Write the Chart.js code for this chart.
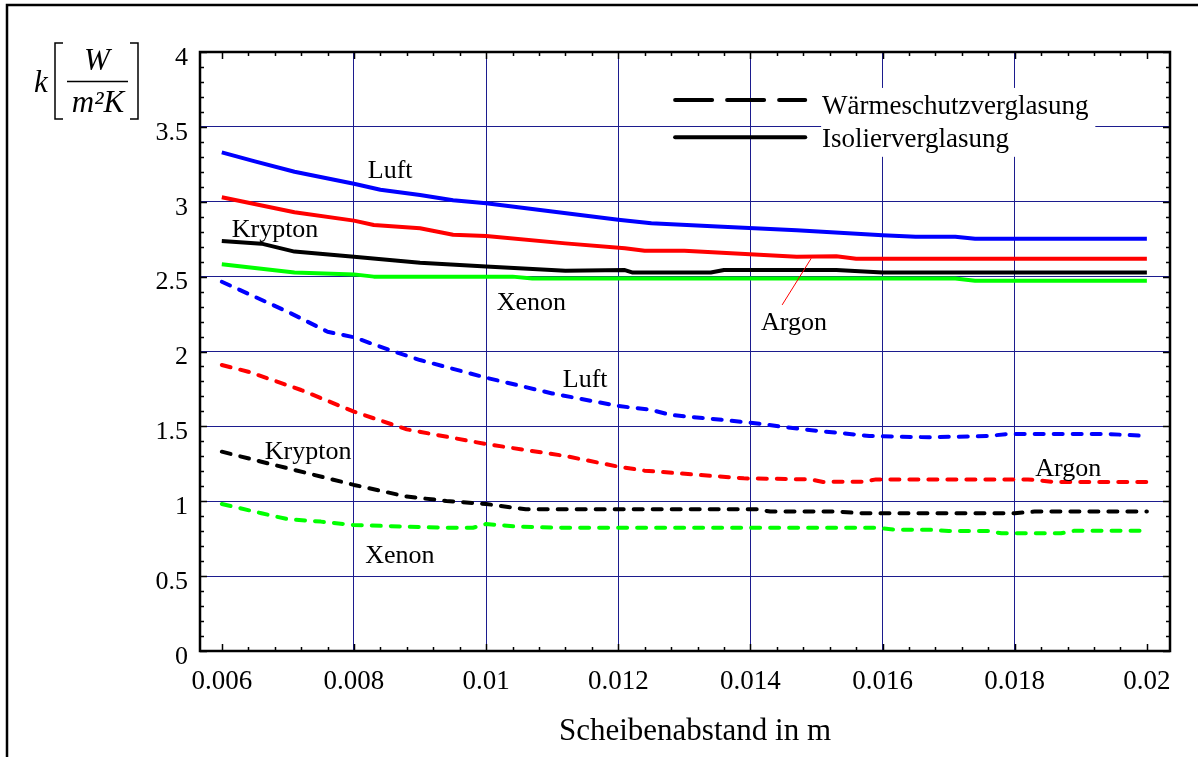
<!DOCTYPE html>
<html>
<head>
<meta charset="utf-8">
<title>k-Wert über Scheibenabstand</title>
<script src="https://cdn.jsdelivr.net/npm/chart.js@4/dist/chart.umd.min.js"></script>
<style>
  html, body { margin:0; padding:0; background:#fff; }
  #wrap { width:1198px; height:757px; }
</style>
</head>
<body>
<div id="wrap"><canvas id="chart" width="1198" height="757"></canvas></div>
<script>
const SERIF = "'Liberation Serif', 'Times New Roman', serif";
const NAVY = "#1c1c8e";

// Isolierverglasung (durchgezogen): Scheibenabstand in m / k in W/m²K
const luftIsoX = [0.006, 0.0065, 0.0071, 0.008, 0.0084, 0.009, 0.0095, 0.010, 0.011, 0.012, 0.0125, 0.0135, 0.0147, 0.016, 0.0165, 0.0171, 0.0174, 0.020];
const luftIsoK = [3.33, 3.27, 3.20, 3.12, 3.08, 3.045, 3.01, 2.99, 2.935, 2.88, 2.856, 2.835, 2.81, 2.776, 2.767, 2.767, 2.753, 2.753];

const argonIsoX = [0.006, 0.0071, 0.008, 0.0083, 0.009, 0.0095, 0.010, 0.0112, 0.0121, 0.0124, 0.013, 0.0147, 0.0153, 0.0156, 0.020];
const argonIsoK = [3.03, 2.93, 2.874, 2.845, 2.823, 2.78, 2.771, 2.722, 2.69, 2.673, 2.673, 2.633, 2.636, 2.62, 2.62];

const kryptonIsoX = [0.006, 0.0066, 0.0071, 0.008, 0.009, 0.010, 0.0112, 0.0121, 0.01222, 0.0134, 0.0136, 0.0153, 0.016, 0.020];
const kryptonIsoK = [2.738, 2.72, 2.667, 2.633, 2.593, 2.567, 2.54, 2.544, 2.527, 2.527, 2.544, 2.544, 2.527, 2.527];

const xenonIsoX = [0.006, 0.0071, 0.008, 0.0083, 0.0104, 0.0107, 0.0171, 0.0174, 0.020];
const xenonIsoK = [2.582, 2.527, 2.515, 2.50, 2.50, 2.487, 2.487, 2.473, 2.473];

// Wärmeschutzverglasung (gestrichelt)
const luftWsX = [0.006, 0.007, 0.0076, 0.008, 0.0086, 0.009, 0.010, 0.011, 0.012, 0.0125, 0.0128, 0.014, 0.0148, 0.0158, 0.0167, 0.0176, 0.0179, 0.0194, 0.020];
const luftWsK = [2.466, 2.265, 2.132, 2.095, 2.0, 1.943, 1.825, 1.72, 1.636, 1.61, 1.576, 1.525, 1.48, 1.436, 1.427, 1.436, 1.449, 1.449, 1.436];

const argonWsX = [0.006, 0.0064, 0.0072, 0.008, 0.0088, 0.010, 0.0112, 0.012, 0.0124, 0.0139, 0.0149, 0.0151, 0.0157, 0.0159, 0.0182, 0.0186, 0.020];
const argonWsK = [1.91, 1.865, 1.743, 1.598, 1.48, 1.382, 1.302, 1.231, 1.204, 1.153, 1.146, 1.129, 1.131, 1.146, 1.146, 1.129, 1.129];

const kryptonWsX = [0.006, 0.0066, 0.0073, 0.008, 0.0088, 0.0094, 0.010, 0.0106, 0.0141, 0.0143, 0.0153, 0.0157, 0.0180, 0.0183, 0.020];
const kryptonWsK = [1.331, 1.264, 1.187, 1.109, 1.031, 1.002, 0.982, 0.946, 0.946, 0.931, 0.931, 0.92, 0.92, 0.931, 0.931];

const xenonWsX = [0.006, 0.0066, 0.0070, 0.0075, 0.008, 0.0094, 0.0098, 0.0100, 0.0105, 0.0112, 0.0159, 0.0162, 0.0167, 0.0170, 0.0176, 0.0178, 0.0187, 0.0189, 0.020];
const xenonWsK = [0.982, 0.92, 0.88, 0.864, 0.841, 0.823, 0.823, 0.848, 0.83, 0.823, 0.823, 0.81, 0.81, 0.801, 0.801, 0.786, 0.786, 0.803, 0.803];

// Achsen
const xTicks = [0.006, 0.008, 0.010, 0.012, 0.014, 0.016, 0.018, 0.020];
const xTickLabels = ["0.006", "0.008", "0.01", "0.012", "0.014", "0.016", "0.018", "0.02"];
const yTicks = [0, 0.5, 1, 1.5, 2, 2.5, 3, 3.5, 4];
const yTickLabels = ["0", "0.5", "1", "1.5", "2", "2.5", "3", "3.5", "4"];

// Beschriftungen an den Kurven (Achsenwerte, linke Kante / Grundlinie)
const curveLabels = [
  { text: "Luft",    x: 0.00821, k: 3.159 },
  { text: "Krypton", x: 0.00615, k: 2.765 },
  { text: "Xenon",   x: 0.01016, k: 2.277 },
  { text: "Argon",   x: 0.01416, k: 2.144 },
  { text: "Luft",    x: 0.01116, k: 1.763 },
  { text: "Krypton", x: 0.00665, k: 1.282 },
  { text: "Xenon",   x: 0.00817, k: 0.588 },
  { text: "Argon",   x: 0.01831, k: 1.169 }
];
const argonPointer = [[0.01448, 2.311], [0.01492, 2.622]];

const legendItems = [
  { text: "Wärmeschutzverglasung", dashed: true,  k: 3.68 },
  { text: "Isolierverglasung",     dashed: false, k: 3.43 }
];

function pts(xs, ks) { return xs.map((x, i) => ({ x: x, y: ks[i] })); }

function line(xs, ks, color, dashed) {
  return {
    data: pts(xs, ks),
    borderColor: color,
    borderWidth: 4,
    borderDash: dashed ? [9, 10] : [],
    borderCapStyle: dashed ? "round" : "butt",
    borderJoinStyle: "round",
    pointRadius: 0,
    tension: 0,
    fill: false
  };
}

const decor = {
  id: "decor",
  afterDraw(chart) {
    const ctx = chart.ctx, a = chart.chartArea;
    const xs = chart.scales.x, ys = chart.scales.y;
    ctx.save();
    ctx.strokeStyle = "#000";
    ctx.lineCap = "butt";

    // äußerer Rahmen (oben und links)
    ctx.lineWidth = 2.5;
    ctx.beginPath();
    ctx.moveTo(1198, 5); ctx.lineTo(7, 5); ctx.lineTo(7, 757);
    ctx.stroke();

    // Diagrammrahmen
    ctx.lineWidth = 2.5;
    ctx.strokeRect(a.left, a.top, a.right - a.left, a.bottom - a.top);

    // Teilstriche nach innen
    ctx.lineWidth = 1.5;
    ctx.beginPath();
    for (let k = 0; k <= 35; k++) {
      const px = Math.round(xs.getPixelForValue(0.006 + k * 0.0004)) + 0.5;
      const len = k % 5 === 0 ? 7 : 4;
      ctx.moveTo(px, a.bottom); ctx.lineTo(px, a.bottom - len);
      ctx.moveTo(px, a.top); ctx.lineTo(px, a.top + len);
    }
    for (let k = 0; k <= 40; k++) {
      const py = Math.round(ys.getPixelForValue(k * 0.1)) + 0.5;
      const len = k % 5 === 0 ? 7 : 4;
      ctx.moveTo(a.left, py); ctx.lineTo(a.left + len, py);
      ctx.moveTo(a.right, py); ctx.lineTo(a.right - len, py);
    }
    ctx.stroke();

    // Kurvenbeschriftungen
    ctx.fillStyle = "#000";
    ctx.font = "26px " + SERIF;
    ctx.textAlign = "left";
    ctx.textBaseline = "alphabetic";
    curveLabels.forEach(l => ctx.fillText(l.text, xs.getPixelForValue(l.x), ys.getPixelForValue(l.k)));

    // Hinweislinie Argon
    ctx.strokeStyle = "#ff0000";
    ctx.lineWidth = 1;
    ctx.beginPath();
    ctx.moveTo(xs.getPixelForValue(argonPointer[0][0]), ys.getPixelForValue(argonPointer[0][1]));
    ctx.lineTo(xs.getPixelForValue(argonPointer[1][0]), ys.getPixelForValue(argonPointer[1][1]));
    ctx.stroke();

    // Legende
    const bx0 = xs.getPixelForValue(0.01507), bx1 = xs.getPixelForValue(0.01922);
    const by0 = ys.getPixelForValue(3.76), by1 = ys.getPixelForValue(3.30);
    ctx.fillStyle = "#fff";
    ctx.fillRect(bx0, by0, bx1 - bx0, by1 - by0);
    ctx.strokeStyle = "#000";
    ctx.lineWidth = 4;
    ctx.lineCap = "round";
    legendItems.forEach(it => {
      const py = ys.getPixelForValue(it.k);
      const lx0 = xs.getPixelForValue(0.01283), lx1 = xs.getPixelForValue(0.01486);
      ctx.setLineDash(it.dashed ? [37, 15] : []);
      ctx.beginPath();
      ctx.moveTo(lx0 + 2, py); ctx.lineTo(lx1 - 2, py);
      ctx.stroke();
    });
    ctx.setLineDash([]);
    ctx.fillStyle = "#000";
    ctx.font = "27px " + SERIF;
    ctx.fillText(legendItems[0].text, bx0 + 1, 114);
    ctx.fillText(legendItems[1].text, bx0 + 1, 147);

    // Achsentitel x
    ctx.font = "31px " + SERIF;
    ctx.textAlign = "center";
    ctx.fillText("Scheibenabstand in m", 695, 740);

    // Achsentitel y: k [W / m²K]
    ctx.font = "italic 31px " + SERIF;
    ctx.textAlign = "left";
    ctx.fillText("k", 34, 92);
    ctx.textAlign = "center";
    ctx.fillText("W", 97, 70);
    ctx.fillText("m²K", 98, 112);
    ctx.lineWidth = 1.5;
    ctx.lineCap = "butt";
    ctx.beginPath();
    ctx.moveTo(67, 81.5); ctx.lineTo(128, 81.5);
    ctx.moveTo(63, 43); ctx.lineTo(55, 43); ctx.lineTo(55, 119); ctx.lineTo(63, 119);
    ctx.moveTo(130, 43); ctx.lineTo(138, 43); ctx.lineTo(138, 119); ctx.lineTo(130, 119);
    ctx.stroke();

    ctx.restore();
  }
};

new Chart(document.getElementById("chart"), {
  type: "line",
  data: {
    datasets: [
      line(luftIsoX, luftIsoK, "#0000ff", false),
      line(argonIsoX, argonIsoK, "#ff0000", false),
      line(kryptonIsoX, kryptonIsoK, "#000000", false),
      line(xenonIsoX, xenonIsoK, "#00ff00", false),
      line(luftWsX, luftWsK, "#0000ff", true),
      line(argonWsX, argonWsK, "#ff0000", true),
      line(kryptonWsX, kryptonWsK, "#000000", true),
      line(xenonWsX, xenonWsK, "#00ff00", true)
    ]
  },
  options: {
    responsive: false,
    animation: false,
    devicePixelRatio: 1,
    layout: { padding: { top: 52, right: 28, left: 0, bottom: 0 } },
    plugins: { legend: { display: false }, tooltip: { enabled: false } },
    scales: {
      x: {
        type: "linear",
        min: 0.00567,
        max: 0.02035,
        afterBuildTicks: s => { s.ticks = xTicks.map(v => ({ value: v })); },
        afterFit: s => { s.height = 106; },
        ticks: {
          autoSkip: false, maxRotation: 0, padding: 15, color: "#000",
          font: { family: SERIF, size: 27 },
          callback: (v, i) => xTickLabels[i]
        },
        grid: {
          drawTicks: false, lineWidth: 1,
          color: c => (c.tick && c.tick.value > 0.007 && c.tick.value < 0.019) ? NAVY : "rgba(0,0,0,0)"
        },
        border: { display: false }
      },
      y: {
        type: "linear",
        min: 0,
        max: 4,
        afterBuildTicks: s => { s.ticks = yTicks.map(v => ({ value: v })); },
        afterFit: s => { s.width = 200; },
        ticks: {
          padding: 12, labelOffset: 6, color: "#000",
          font: { family: SERIF, size: 26 },
          callback: (v, i) => yTickLabels[i]
        },
        grid: {
          drawTicks: false, lineWidth: 1,
          color: c => (c.tick && c.tick.value > 0 && c.tick.value < 4) ? NAVY : "rgba(0,0,0,0)"
        },
        border: { display: false }
      }
    }
  },
  plugins: [decor]
});
</script>
</body>
</html>
